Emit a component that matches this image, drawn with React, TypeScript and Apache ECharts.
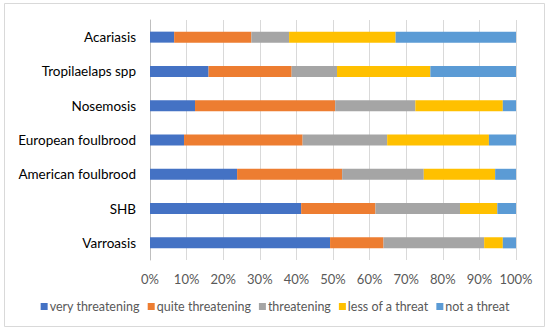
import React, { useEffect, useRef } from "react";
import * as echarts from "echarts";

const categories = ["Varroasis", "SHB", "American foulbrood", "European foulbrood", "Nosemosis", "Tropilaelaps spp", "Acariasis"];
const seriesNames = ["very threatening", "quite threatening", "threatening", "less of a threat", "not a threat"];
const veryThreatening = [49.2, 41.3, 23.8, 9.3, 12.3, 16.0, 6.6];
const quiteThreatening = [14.6, 20.3, 28.7, 32.4, 38.3, 22.7, 21.1];
const threatening = [27.5, 23.1, 22.3, 23.1, 21.9, 12.4, 10.3];
const lessOfAThreat = [5.1, 10.2, 19.5, 27.8, 23.9, 25.5, 29.1];
const notAThreat = [3.6, 5.1, 5.7, 7.4, 3.6, 23.4, 32.9];
const colors = ["#4472C4", "#ED7D31", "#A5A5A5", "#FFC000", "#5B9BD5"];

export default function App() {
  const ref = useRef<HTMLDivElement>(null);
  useEffect(() => {
    document.body.style.margin = "0";
    const chart = echarts.init(ref.current!, null, { renderer: "svg" });
    const data = [veryThreatening, quiteThreatening, threatening, lessOfAThreat, notAThreat];
    const font = "Lato, 'Open Sans', sans-serif";
    chart.setOption({
      animation: false,
      color: colors,
      textStyle: { fontFamily: font },
      graphic: [
        {
          type: "rect",
          shape: { x: 4.5, y: 3.5, width: 540, height: 323 },
          style: { fill: "none", stroke: "#d9d9d9", lineWidth: 1 },
          silent: true,
        },
      ],
      grid: { left: 150, right: 34, top: 20, bottom: 71 },
      legend: {
        bottom: 13,
        left: "center",
        itemWidth: 7,
        itemHeight: 7,
        itemGap: 8,
        icon: "rect",
        textStyle: { color: "#595959", fontSize: 12.5, fontFamily: font, padding: [0, 0, 0, -3] },
        data: seriesNames,
      },
      xAxis: {
        type: "value",
        min: 0,
        max: 100,
        interval: 10,
        axisLabel: { formatter: "{value}%", color: "#595959", fontSize: 13, margin: 12 },
        axisLine: { show: false },
        axisTick: { show: false },
        splitLine: { lineStyle: { color: "#d9d9d9", width: 1 } },
      },
      yAxis: {
        type: "category",
        data: categories,
        axisLine: { show: true, lineStyle: { color: "#bfbfbf" } },
        axisTick: { show: false },
        axisLabel: { color: "#000000", fontSize: 13.5, margin: 14 },
      },
      series: seriesNames.map((name, i) => ({
        name,
        type: "bar",
        stack: "total",
        barWidth: 11,
        data: data[i],
        itemStyle: { color: colors[i] },
      })),
    });
    return () => chart.dispose();
  }, []);
  return <div ref={ref} style={{ width: 550, height: 331 }} />;
}
